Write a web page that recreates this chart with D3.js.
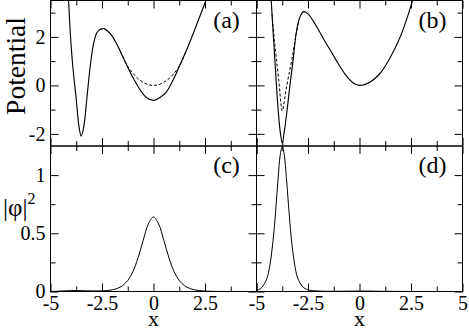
<!DOCTYPE html>
<html><head><meta charset="utf-8">
<script src="https://cdn.jsdelivr.net/npm/d3@7"></script>
<style>body{margin:0;background:#fff}svg{display:block}</style>
</head><body><svg id="c" width="469" height="331"></svg>
<script>
// ---- tick values ----
const xMajor = [-5, -2.5, 0, 2.5, 5];
const xMinor = [-3.75, -1.25, 1.25, 3.75];
const potMajor = [-2, 0, 2];
const potMinor = [-1, 1, 3];
const denMajor = [0, 0.5, 1];
const denMinor = [0.25, 0.75];

// ---- panel (a): potential, solid and dashed ----
const aX  = [-4.3, -4.13, -4.04, -3.92, -3.75, -3.62, -3.51, -3.38, -3.24, -3.07, -2.9, -2.75, -2.6, -2.41, -2.2, -2.0, -1.75, -1.5, -1.25, -1.0, -0.68, -0.35, 0, 0.35, 0.62, 1.0, 1.26, 1.6, 1.91, 2.25, 2.56, 2.75];
const aV  = [5.2, 3.55, 2.17, 0.80, -0.58, -1.68, -2.09, -1.68, -0.58, 0.80, 1.76, 2.17, 2.30, 2.34, 2.22, 2.02, 1.65, 1.2, 0.75, 0.33, -0.14, -0.5, -0.62, -0.48, -0.28, 0.3, 0.8, 1.45, 2.1, 2.85, 3.55, 4.1];
const adX = [-1.6, -1.25, -1.0, -0.75, -0.5, -0.25, 0, 0.25, 0.5, 0.75, 1.0, 1.26, 1.6];
const adV = [1.38, 0.78, 0.5, 0.28, 0.125, 0.03, 0, 0.03, 0.125, 0.28, 0.5, 0.8, 1.45];

// ---- panel (b): potential, solid and dashed ----
const bX  = [-4.4, -4.29, -4.2, -4.11, -3.95, -3.85, -3.75, -3.65, -3.51, -3.37, -3.22, -3.07, -2.9, -2.72, -2.5, -2.1, -1.7, -1.3, -1.0, -0.65, -0.3, 0, 0.5, 1.0, 1.46, 2.0, 2.3, 2.59, 2.8];
const bV  = [5.0, 3.55, 2.3, 1.07, -0.99, -1.9, -2.39, -1.9, -0.99, 0.05, 1.07, 2.17, 2.8, 3.04, 2.95, 2.45, 1.85, 1.28, 0.85, 0.4, 0.1, 0, 0.13, 0.5, 1.1, 2.05, 2.75, 3.55, 4.2];
const bdX = [-4.25, -4.15, -4.03, -3.9, -3.82, -3.75, -3.68, -3.58, -3.45, -3.28, -3.1, -2.95];
const bdV = [2.95, 2.0, 1.07, 0.05, -0.7, -1.06, -0.8, -0.25, 0.35, 1.07, 2.0, 2.65];

// ---- panel (c): density ----
const cX = [-5, -4.5, -4, -3.75, -3.5, -3, -2.5, -2, -1.75, -1.5, -1.25, -1, -0.75, -0.5, -0.25, 0, 0.25, 0.5, 0.75, 1, 1.25, 1.5, 1.75, 2, 2.5, 3, 4, 5];
const cV = [0, 0.004, 0.008, 0.009, 0.008, 0.005, 0.006, 0.014, 0.027, 0.05, 0.095, 0.17, 0.29, 0.44, 0.58, 0.64, 0.58, 0.44, 0.29, 0.17, 0.095, 0.05, 0.027, 0.014, 0.004, 0.001, 0, 0];

// ---- panel (d): density ----
const dX = [-5, -4.75, -4.5, -4.35, -4.25, -4.15, -4.05, -3.95, -3.85, -3.75, -3.65, -3.55, -3.45, -3.35, -3.25, -3.15, -3, -2.75, -2.5, -2, -1, 0, 1, 2.5, 5];
const dV = [0.007, 0.033, 0.11, 0.225, 0.354, 0.52, 0.74, 0.975, 1.17, 1.245, 1.17, 0.98, 0.75, 0.53, 0.36, 0.235, 0.115, 0.04, 0.015, 0.004, 0.002, 0.004, 0.002, 0, 0];

const panelLabels = ["(a)", "(b)", "(c)", "(d)"];

// ---- layout ----
const svg = d3.select("#c");
const FONT = '"Liberation Serif", "Times New Roman", serif';
const L = 50.5, W = 206, T = 0.5, H = 145.5;

const zip = (xs, ys) => xs.map((x, i) => [x, ys[i]]);
const panels = [
  {col:0,row:0,lab:panelLabels[0],dom:[-2.5,3.5],maj:potMajor,min:potMinor,yl:true,xl:false,
   lines:[{d:zip(aX,aV),dash:null,w:1.15},{d:zip(adX,adV),dash:"3,2",w:1.0}]},
  {col:1,row:0,lab:panelLabels[1],dom:[-2.5,3.5],maj:potMajor,min:potMinor,yl:false,xl:false,
   lines:[{d:zip(bX,bV),dash:null,w:1.15},{d:zip(bdX,bdV),dash:"3,2",w:1.0}]},
  {col:0,row:1,lab:panelLabels[2],dom:[0,1.25],maj:denMajor,min:denMinor,yl:true,xl:true,
   lines:[{d:zip(cX,cV),dash:null,w:1.0}]},
  {col:1,row:1,lab:panelLabels[3],dom:[0,1.25],maj:denMajor,min:denMinor,yl:false,xl:true,
   lines:[{d:zip(dX,dV),dash:null,w:1.0}]}
];

function styleAxis(g, fs){
  g.select(".domain").remove();
  g.attr("font-size", fs).attr("color", "#000");
  g.selectAll("line").attr("stroke-width", 1);
}

panels.forEach((p, i) => {
  const x0 = L + p.col * W, y0 = T + p.row * H;
  const xs = d3.scaleLinear().domain([-5, 5]).range([x0, x0 + W]);
  const ys = d3.scaleLinear().domain(p.dom).range([y0 + H, y0]);
  const g = svg.append("g");

  const cid = "clip" + i;
  svg.append("clipPath").attr("id", cid).append("rect")
    .attr("x", x0).attr("y", y0).attr("width", W).attr("height", H);

  const line = d3.line().x(d => xs(d[0])).y(d => ys(d[1])).curve(d3.curveCatmullRom.alpha(0.5));
  p.lines.forEach(l => {
    g.append("path").attr("clip-path", `url(#${cid})`).attr("d", line(l.d))
      .attr("fill", "none").attr("stroke", "#000").attr("stroke-width", l.w)
      .attr("stroke-dasharray", l.dash);
  });

  const xfmt = p.xl ? (d => (p.col === 0 && d === 5) ? "" : String(d)) : (() => "");
  g.append("g").attr("transform", `translate(0,${y0 + H})`)
    .call(d3.axisBottom(xs).tickValues(xMajor).tickSize(-8).tickPadding(4).tickFormat(xfmt))
    .call(a => styleAxis(a, 20));
  g.append("g").attr("transform", `translate(0,${y0 + H})`)
    .call(d3.axisBottom(xs).tickValues(xMinor).tickSize(-5).tickFormat(() => ""))
    .call(a => styleAxis(a, 20));
  g.append("g").attr("transform", `translate(0,${y0})`)
    .call(d3.axisTop(xs).tickValues(xMajor).tickSize(-8).tickFormat(() => ""))
    .call(a => styleAxis(a, 20));
  g.append("g").attr("transform", `translate(0,${y0})`)
    .call(d3.axisTop(xs).tickValues(xMinor).tickSize(-5).tickFormat(() => ""))
    .call(a => styleAxis(a, 20));
  const yfmt = p.yl ? (d => String(d)) : (() => "");
  g.append("g").attr("transform", `translate(${x0},0)`)
    .call(d3.axisLeft(ys).tickValues(p.maj).tickSize(-8).tickPadding(5).tickFormat(yfmt))
    .call(a => styleAxis(a, 20));
  g.append("g").attr("transform", `translate(${x0},0)`)
    .call(d3.axisLeft(ys).tickValues(p.min).tickSize(-5).tickFormat(() => ""))
    .call(a => styleAxis(a, 20));
  g.append("g").attr("transform", `translate(${x0 + W},0)`)
    .call(d3.axisRight(ys).tickValues(p.maj).tickSize(-8).tickFormat(() => ""))
    .call(a => styleAxis(a, 20));
  g.append("g").attr("transform", `translate(${x0 + W},0)`)
    .call(d3.axisRight(ys).tickValues(p.min).tickSize(-5).tickFormat(() => ""))
    .call(a => styleAxis(a, 20));

  g.append("rect").attr("x", x0).attr("y", y0).attr("width", W).attr("height", H)
    .attr("fill", "none").attr("stroke", "#000").attr("stroke-width", 1);

  g.append("text").attr("x", x0 + 176).attr("y", y0 + 27)
    .attr("text-anchor", "middle").attr("font-size", 24)
    .text(p.lab);

  if (p.xl) {
    g.append("text").attr("x", xs(0)).attr("y", 326)
      .attr("text-anchor", "middle").attr("font-size", 22)
      .text("x");
  }
});

svg.append("text").attr("transform", "translate(25,66) rotate(-90)")
  .attr("text-anchor", "middle").attr("font-size", 27.5)
  .text("Potential");
const phi = svg.append("text").attr("x", 3).attr("y", 216).attr("font-size", 25);
phi.append("tspan").text("|φ|");
phi.append("tspan").attr("dy", -12).attr("font-size", 16).text("2");

svg.selectAll("text").style("font-family", FONT).attr("fill", "#000");
svg.selectAll("g").attr("font-family", null);
</script></body></html>
